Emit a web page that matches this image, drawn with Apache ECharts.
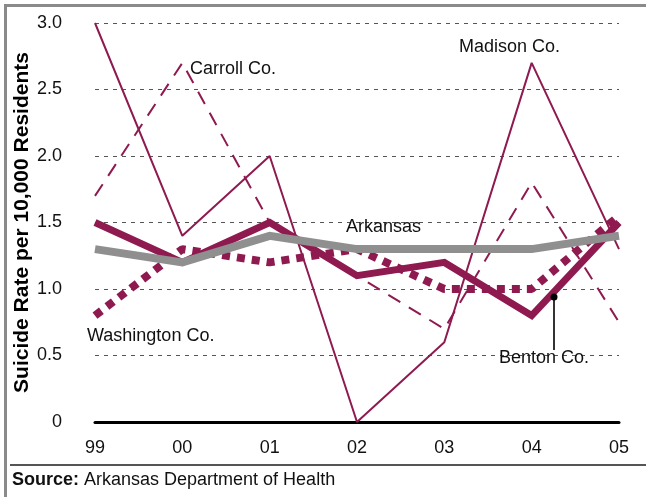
<!DOCTYPE html>
<html>
<head>
<meta charset="utf-8">
<script src="https://cdn.jsdelivr.net/npm/echarts@6/dist/echarts.min.js"></script>
<style>
  html, body { margin: 0; padding: 0; background: #fff; }
  #chart { width: 646px; height: 497px; }
</style>
</head>
<body>
<div id="chart"></div>
<script>
// years along the bottom
const years = ['99', '00', '01', '02', '03', '04', '05'];

// suicide rate per 10,000 residents
const madison = [3.0, 1.4, 2.0, 0, 0.6, 2.7, 1.3];
const carroll = [1.7, 2.7, 1.5, 1.1, 0.7, 1.8, 0.75];
const benton = [1.5, 1.2, 1.5, 1.1, 1.2, 0.8, 1.5];
const washington = [0.8, 1.3, 1.2, 1.3, 1.0, 1.0, 1.55];
const arkansas = [1.3, 1.2, 1.4, 1.3, 1.3, 1.3, 1.4];

const yTicks = ['0', '0.5', '1.0', '1.5', '2.0', '2.5', '3.0'];

const maroon = '#8e1a50';
const font = 'Liberation Sans, Arial, sans-serif';

let myChart = echarts.init(document.getElementById('chart'));

function line(name, data, style, z) {
  return {
    name: name,
    type: 'line',
    data: data,
    symbol: 'none',
    z: z,
    lineStyle: style,
    emphasis: { disabled: true }
  };
}

function label(text, x, y) {
  return {
    type: 'text', left: x, top: y, z: 10,
    style: { text: text, fill: '#111', font: '18px ' + font }
  };
}

myChart.setOption({
  animation: false,
  grid: {
    left: 95,
    right: 27,
    top: 23,
    bottom: 75,
    outerBoundsMode: 'none'
  },
  xAxis: {
    type: 'category',
    data: years,
    boundaryGap: false,
    axisTick: { show: false },
    axisLine: {
      lineStyle: { color: '#000', width: 3 }
    },
    axisLabel: {
      color: '#111',
      fontSize: 18,
      fontFamily: font,
      margin: 17
    }
  },
  yAxis: {
    type: 'value',
    min: 0,
    max: 3,
    interval: 0.5,
    name: 'Suicide Rate per 10,000 Residents',
    nameLocation: 'middle',
    nameGap: 62,
    nameMoveOverlap: false,
    nameTextStyle: {
      color: '#000',
      fontSize: 21,
      fontWeight: 'bold',
      fontFamily: font
    },
    axisLine: { show: false },
    axisTick: { show: false },
    splitLine: {
      lineStyle: { color: '#555', type: [4, 5], width: 1 }
    },
    axisLabel: {
      color: '#111',
      fontSize: 18,
      fontFamily: font,
      margin: 33,
      formatter: function (v) { return yTicks[Math.round(v * 2)]; }
    }
  },
  series: [
    line('Madison Co.', madison, { color: maroon, width: 2 }, 2),
    line('Carroll Co.', carroll, { color: maroon, width: 2, type: [14, 10] }, 2),
    line('Washington Co.', washington, { color: maroon, width: 8, type: [8, 7], cap: 'butt' }, 3),
    line('Benton Co.', benton, { color: maroon, width: 7, join: 'miter' }, 4),
    line('Arkansas', arkansas, { color: '#8f8f8f', width: 8, join: 'miter' }, 5)
  ],
  graphic: [
    // frame
    { type: 'rect', shape: { x: 4, y: 4, width: 3, height: 493 }, style: { fill: '#8a8a8a' }, silent: true },
    { type: 'rect', shape: { x: 4, y: 4, width: 642, height: 3 }, style: { fill: '#8a8a8a' }, silent: true },
    { type: 'line', shape: { x1: 10, y1: 465, x2: 646, y2: 465 }, style: { stroke: '#555', lineWidth: 2 }, silent: true },
    // labels
    label('Carroll Co.', 190, 60),
    label('Madison Co.', 459, 38),
    label('Arkansas', 346, 218),
    label('Washington Co.', 87, 327),
    label('Benton Co.', 499, 349),
    { type: 'line', shape: { x1: 554, y1: 297, x2: 554, y2: 350 }, style: { stroke: '#333', lineWidth: 2 }, z: 10 },
    { type: 'circle', shape: { cx: 554, cy: 297, r: 3.5 }, style: { fill: '#000' }, z: 10 },
    // source
    {
      type: 'text', left: 12, top: 471,
      style: {
        text: '{b|Source:} Arkansas Department of Health',
        fill: '#111',
        font: '18px ' + font,
        rich: {
          b: { fontWeight: 'bold', fontSize: 18, fontFamily: font, fill: '#111' }
        }
      }
    }
  ]
});
</script>
</body>
</html>
